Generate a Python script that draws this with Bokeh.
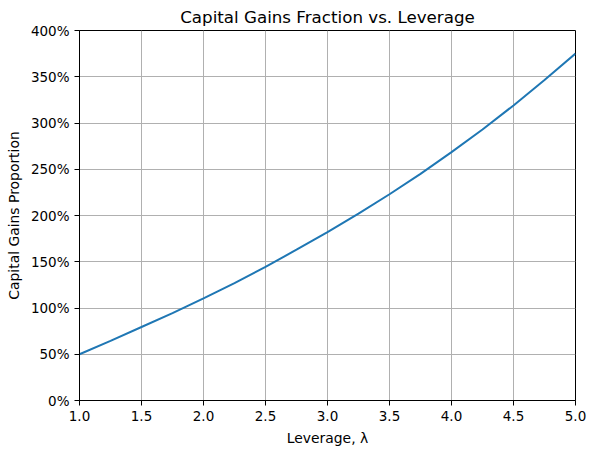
from bokeh.plotting import figure
from bokeh.models import FixedTicker, NumeralTickFormatter, Range1d
from bokeh.embed import file_html
from bokeh.resources import INLINE

# leverage values and capital gains proportion
leverage = [1.0, 1.25, 1.5, 1.75, 2.0, 2.25, 2.5, 2.75, 3.0,
            3.25, 3.5, 3.75, 4.0, 4.25, 4.5, 4.75, 5.0]
gains = [0.50, 0.645, 0.795, 0.945, 1.105, 1.27, 1.445, 1.63, 1.82,
         2.02, 2.23, 2.45, 2.685, 2.93, 3.19, 3.465, 3.75]

x_ticks = [1.0, 1.5, 2.0, 2.5, 3.0, 3.5, 4.0, 4.5, 5.0]
y_ticks = [0, 0.5, 1.0, 1.5, 2.0, 2.5, 3.0, 3.5, 4.0]

font = "DejaVu Sans"

p = figure(
    width=590, height=450,
    title="Capital Gains Fraction vs. Leverage",
    x_axis_label="Leverage, λ",
    y_axis_label="Capital Gains Proportion",
    x_range=Range1d(1, 5), y_range=Range1d(0, 4),
    output_backend="svg", toolbar_location=None,
    min_border_left=79, min_border_right=15,
    min_border_top=0, min_border_bottom=50,
)

p.line(leverage, gains, color="#1f77b4", line_width=2)

p.title.align = "center"
p.title.text_font = font
p.title.text_font_size = "16.7px"
p.title.text_font_style = "normal"
p.title.text_color = "black"
p.title.standoff = 8

for ax in (p.xaxis, p.yaxis):
    ax.major_label_text_font = font
    ax.major_label_text_font_size = "13.5px"
    ax.major_label_text_color = "black"
    ax.axis_label_text_font = font
    ax.axis_label_text_font_size = "13.9px"
    ax.axis_label_text_font_style = "normal"
    ax.axis_label_text_color = "black"
    ax.axis_line_color = "black"
    ax.major_tick_line_color = "black"
    ax.major_tick_out = 5
    ax.major_tick_in = 0
    ax.minor_tick_line_color = None
    ax.axis_label_standoff = 6

p.xaxis.ticker = FixedTicker(ticks=x_ticks)
p.yaxis.ticker = FixedTicker(ticks=y_ticks)
p.xaxis.formatter = NumeralTickFormatter(format="0.0")
p.yaxis.formatter = NumeralTickFormatter(format="0%")

p.grid.grid_line_color = "#b0b0b0"
p.grid.grid_line_width = 1
p.outline_line_color = "black"
p.outline_line_alpha = 1
p.outline_line_width = 1

open("out.html", "w").write(file_html(p, INLINE))
